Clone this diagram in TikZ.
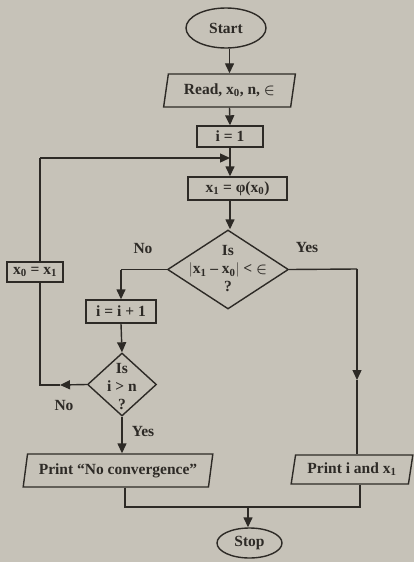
\documentclass[tikz,border=0pt]{standalone}
\usepackage{fontspec}
\usepackage{bm}
\setmainfont{Liberation Serif}
\usetikzlibrary{shapes.geometric,arrows.meta}
\definecolor{paper}{RGB}{198,194,184}
\definecolor{ink}{RGB}{45,42,38}
\newcommand{\sub}[1]{\textsubscript{#1}}
\newcommand{\elt}{$\bm{\in}$}
\begin{document}
\begin{tikzpicture}[x=1pt,y=-1pt,
  every node/.style={text=ink,font=\bfseries\fontsize{15.5}{18}\selectfont},
  line/.style={draw=ink,line width=1.4pt},
  arr/.style={line,-{Triangle[length=10pt,width=9pt]}},
  box/.style={line,rectangle,inner sep=0pt},
  term/.style={line,ellipse,inner sep=0pt},
  io/.style={line,trapezium,trapezium left angle=75,trapezium right angle=105,trapezium stretches=true,inner sep=0pt},
  dec/.style={line,diamond,inner sep=0pt},
  lbl/.style={inner sep=0pt}]
\fill[paper] (0,0) rectangle (414,562);
\useasboundingbox (0,0) rectangle (414,562);

\node[term,minimum width=80pt,minimum height=40pt] (start) at (226,28) {Start};
\node[io,minimum width=133pt,minimum height=33pt] (read) at (229.5,90.5) {Read, x\sub{0}, n, \elt};
\node[box,minimum width=66pt,minimum height=21pt] (i1) at (230,136.5) {i = 1};
\node[box,minimum width=99pt,minimum height=23pt] (x1) at (237.5,188.5) {x\sub{1} = φ(x\sub{0})};
\node[dec,minimum width=121pt,minimum height=79pt] (d1) at (228,269.5) {};
\node[lbl,align=center] (d1t) at (228,269) {Is\\$|$x\sub{1} – x\sub{0}$|$ < \elt\\?};
\node[box,minimum width=70pt,minimum height=23pt] (inc) at (121,311.5) {i = i + 1};
\node[dec,minimum width=69pt,minimum height=63pt] (d2) at (122,384.5) {};
\node[lbl,align=center] (d2t) at (122,387) {Is\\i > n\\?};
\node[box,minimum width=56pt,minimum height=20pt] (x0) at (35,272) {x\sub{0} = x\sub{1}};
\node[io,minimum width=190pt,minimum height=33pt] (pr1) at (118,470.5) {Print “No convergence”};
\node[io,minimum width=122pt,minimum height=29pt] (pr2) at (352,469.5) {Print i and x\sub{1}};
\node[term,minimum width=65pt,minimum height=30pt] (stop) at (249.5,543) {Stop};

\node[lbl] (no1) at (143,248) {No};
\node[lbl] (yes1) at (307,247) {Yes};
\node[lbl] (no2) at (64,405) {No};
\node[lbl] (yes2) at (143,431) {Yes};

\coordinate (loopin) at (230,158);
\coordinate (loopc) at (40,158);
\coordinate (loopb) at (40,385);
\coordinate (loopm) at (60,385);
\coordinate (rc) at (357,269);
\coordinate (rm) at (357,380);
\coordinate (jl) at (125,507);
\coordinate (jr) at (360,507);
\coordinate (jm) at (248,507);

\draw[arr] (start.south -| read.north) -- (read.north);
\draw[arr] (read.south) -- (i1.north);
\draw[line] (i1.south) -- (loopin);
\draw[arr] (loopin) -- (loopin |- x1.north);
\draw[arr] (x1.south -| loopin) -- (loopin |- d1.north);
\draw[line] (d1.west) -- (d1.west -| inc.north);
\draw[arr] (d1.west -| inc.north) -- (inc.north);
\draw[arr] (inc.south) -- (d2.north);
\draw[arr] (d2.west) -- (loopm);
\draw[line] (loopm) -- (loopb) -- (loopb |- x0.south);
\draw[line] (loopb |- x0.north) -- (loopc);
\draw[arr] (loopc) -- (loopin);
\draw[arr] (d2.south) -- (d2.south |- pr1.north);
\draw[line] (d1.east) -- (rc);
\draw[arr] (rc) -- (rm);
\draw[line] (rm) -- (rm |- pr2.north);
\draw[line] (pr1.south -| jl) -- (jl) -- (jr) -- (pr2.south -| jr);
\draw[arr] (jm) -- (jm |- stop.north);
\end{tikzpicture}
\end{document}
